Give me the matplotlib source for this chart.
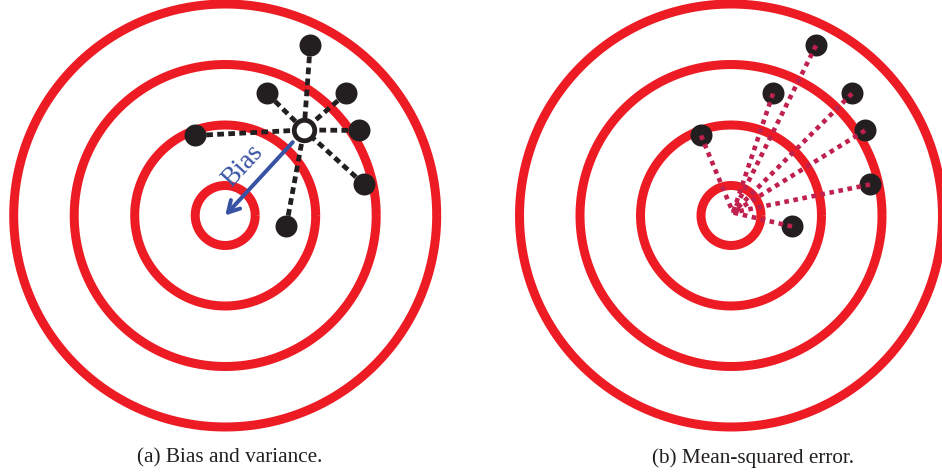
import numpy as np
import matplotlib
matplotlib.use("Agg")
import matplotlib.pyplot as plt

# Target rings (radius, in pixels of the drawing) and the scattered estimates,
# given as offsets from the target centre (x to the right, y upward).
ring_radii = [30, 90.5, 151, 211.5]
shot_x = [85, 42, 121, 134, -30, 139, 61]
shot_y = [170, 122, 122, 85, 80, 31, -11]
captions = ["(a) Bias and variance.", "(b) Mean-squared error."]

RED = "#ed1c24"
BLACK = "#231f20"
BLUE = "#3953a4"
CRIMSON = "#c0204e"

W, H, DPI = 942, 473, 100
fig = plt.figure(figsize=(W / DPI, H / DPI), dpi=DPI)
serif = ["Liberation Serif", "DejaVu Serif"]

HALF = 225  # half-size of each panel, in pixels
px = 72.0 / DPI  # points per pixel


def target_axes(cx, cy):
    """Square axes whose data units are pixels, origin at the target centre."""
    ax = fig.add_axes([(cx - HALF) / W, (H - cy - HALF) / H, 2 * HALF / W, 2 * HALF / H])
    ax.set_xlim(-HALF, HALF)
    ax.set_ylim(-HALF, HALF)
    ax.set_aspect("equal")
    ax.axis("off")
    theta = np.linspace(0, 2 * np.pi, 400)
    for r in ring_radii:
        ax.plot(r * np.cos(theta), r * np.sin(theta), color=RED, lw=9 * px,
                solid_capstyle="butt", zorder=1)
    return ax


xs = np.array(shot_x, float)
ys = np.array(shot_y, float)
mx, my = xs.mean(), ys.mean()

# (a) bias and variance
ax = target_axes(225.2, 215.5)
for x, y in zip(xs, ys):
    ax.plot([x, mx], [y, my], color=BLACK, lw=4.8 * px, dashes=(1.4, 0.9),
            dash_capstyle="butt", zorder=2)
ax.plot(xs, ys, "o", ms=22 * px, color=BLACK, mec="none", zorder=3)
ax.plot([mx], [my], "o", ms=20.5 * px, mfc="white", mec=BLACK, mew=4.8 * px, zorder=4)
ax.annotate("", xy=(0, 0), xytext=(mx, my),
            arrowprops=dict(arrowstyle="->,head_length=0.8,head_width=0.45",
                            color=BLUE, lw=4 * px, shrinkA=12, shrinkB=0),
            zorder=5)
ang = np.degrees(np.arctan2(my, mx))
ax.text(0.27 * mx - 4, 0.57 * my + 1, "Bias", color=BLUE, family=serif, fontsize=27 * px,
        rotation=ang, rotation_mode="anchor", ha="center", va="center", zorder=5)

# (b) mean-squared error
ax2 = target_axes(731, 215.5)
ax2.plot(xs, ys, "o", ms=22 * px, color=BLACK, mec="none", zorder=3)
for x, y in zip(xs, ys):
    ax2.plot([x, 2], [y, 3], color=CRIMSON, lw=4.6 * px, dashes=(1, 1),
             dash_capstyle="butt", zorder=4)

fig.text(229.5 / W, 1 - 458 / H, captions[0], family=serif, fontsize=21.3 * px,
         ha="center", va="center", color=BLACK)
fig.text(753 / W, 1 - 458 / H, captions[1], family=serif, fontsize=21.3 * px,
         ha="center", va="center", color=BLACK)

fig.savefig("out.png", dpi=DPI, facecolor="white")
